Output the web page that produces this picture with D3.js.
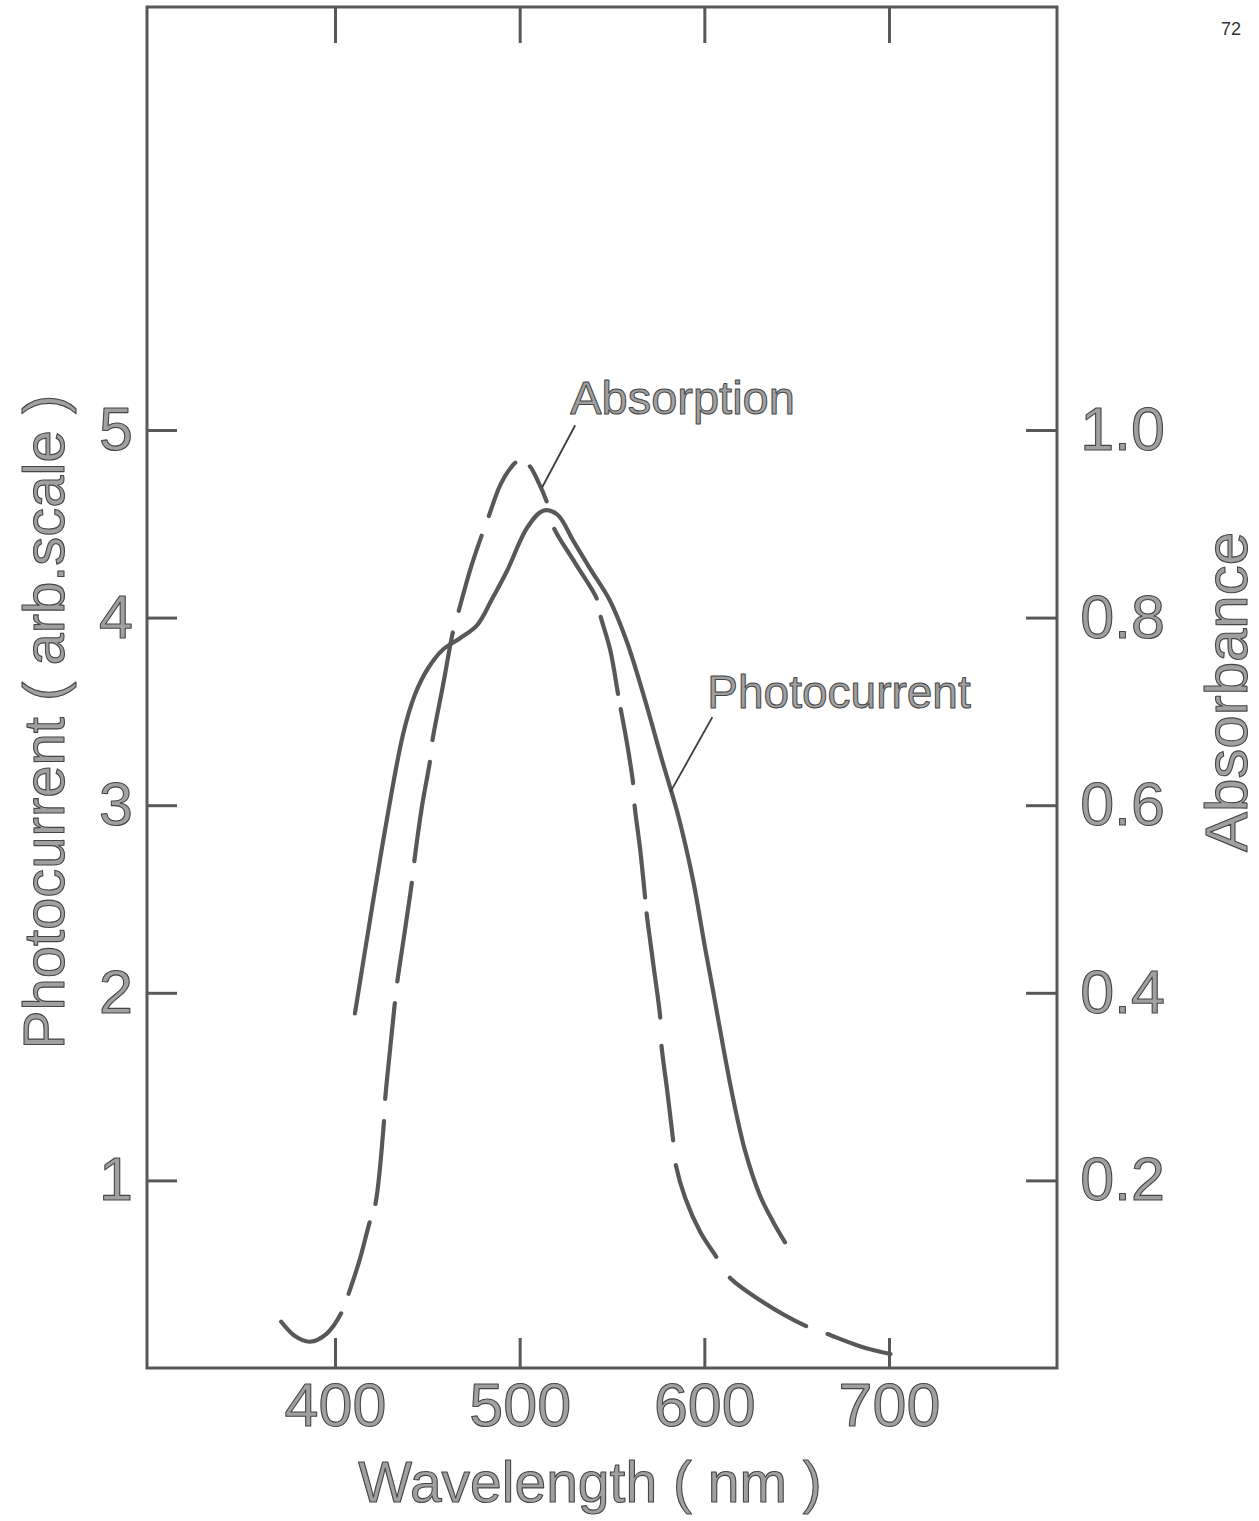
<!DOCTYPE html>
<html>
<head>
<meta charset="utf-8">
<script src="https://cdn.jsdelivr.net/npm/d3@7"></script>
<style>
  html, body { margin: 0; padding: 0; background: #fff; }
  svg { display: block; }
</style>
</head>
<body>
<svg id="chart" width="1259" height="1521"></svg>
<script>
// ---- axis ticks ----
const wavelengthTicks = [400, 500, 600, 700];
const photocurrentTicks = [1, 2, 3, 4, 5];
const absorbanceTicks = [0.2, 0.4, 0.6, 0.8, 1.0];
const absorbanceTickLabels = ["0.2", "0.4", "0.6", "0.8", "1.0"];

// ---- photocurrent spectrum (solid) ----
const photoWavelength = [410.8, 419.0, 428.2, 436.9, 443.3, 450.4, 458.5, 467.7, 477.0, 485.1,
  493.2, 504.1, 512.7, 520.3, 529.0, 538.2, 548.9, 558.1, 567.9, 577.1,
  585.7, 593.9, 600.4, 605.3, 610.6, 615.5, 622.0, 630.1, 637.2, 643.7];
const photoCurrent = [1.89, 2.39, 2.93, 3.38, 3.59, 3.73, 3.83, 3.89, 3.96, 4.10,
  4.25, 4.48, 4.57, 4.55, 4.41, 4.26, 4.09, 3.87, 3.56, 3.24,
  2.95, 2.60, 2.24, 1.98, 1.69, 1.44, 1.16, 0.92, 0.78, 0.67];

// ---- absorption spectrum (long dashes) ----
const absWavelength = [370.2, 378.3, 386.4, 395.7, 403.8, 407.0, 413.6, 419.0, 421.7, 426.6,
  427.1, 429.8, 432.5, 433.6, 437.9, 441.7, 442.8, 447.2, 451.5, 452.6,
  458.5, 464.0, 466.7, 473.2, 479.7, 482.9, 489.4, 494.9, 498.6, 504.6,
  510.0, 514.9, 518.2, 530.1, 542.0, 543.6, 549.1, 553.4, 554.5, 558.3,
  561.5, 562.1, 565.3, 568.0, 568.6, 572.4, 576.2, 576.7, 580.0, 583.2,
  584.3, 589.7, 597.8, 607.0, 613.0, 630.4, 655.8, 665.6, 684.6, 700.8];
const absorbance = [0.051, 0.034, 0.028, 0.037, 0.060, 0.077, 0.117, 0.157, 0.173, 0.265,
  0.285, 0.339, 0.391, 0.410, 0.467, 0.519, 0.538, 0.600, 0.648, 0.667,
  0.728, 0.786, 0.805, 0.851, 0.889, 0.906, 0.941, 0.959, 0.966, 0.963,
  0.945, 0.922, 0.897, 0.858, 0.819, 0.803, 0.765, 0.717, 0.705, 0.664,
  0.622, 0.602, 0.552, 0.500, 0.487, 0.430, 0.372, 0.346, 0.294, 0.241,
  0.219, 0.181, 0.145, 0.117, 0.098, 0.072, 0.044, 0.037, 0.023, 0.015];
// wavelengths where the dashed pen lifts until the next sample
const absPenLifts = [403.8, 419.0, 426.6, 432.5, 441.7, 451.5, 464.0, 479.7, 498.6, 514.9,
  542.0, 553.4, 561.5, 568.0, 576.2, 583.2, 607.0, 655.8];

// ---- curve labels: [text, wavelength, value] of the point each leader touches ----
const absorptionLabel = ["Absorption", 512.2, 0.939];
const photocurrentLabel = ["Photocurrent", 581.6, 3.07];

// ---- layout ----
const frame = { left: 147, top: 7, right: 1057, bottom: 1368 };
const ink = "#585858";
const font = "'Liberation Sans', Arial, sans-serif";

const svg = d3.select("#chart");

const x = d3.scaleLinear().domain([400, 700]).range([335, 889]);
const yLeft = d3.scaleLinear().domain([0, 5]).range([frame.bottom, 430]);
const yRight = d3.scaleLinear().domain([0, 1]).range([frame.bottom, 430]);

function lettering(sel, size) {
  sel.attr("font-family", font)
    .attr("font-size", size)
    .attr("fill", "#a0a0a0")
    .attr("stroke", "#454545")
    .attr("stroke-width", 1.1)
    .attr("stroke-linejoin", "round");
}

// frame
svg.append("rect")
  .attr("x", frame.left).attr("y", frame.top)
  .attr("width", frame.right - frame.left)
  .attr("height", frame.bottom - frame.top)
  .attr("fill", "none").attr("stroke", ink).attr("stroke-width", 3);

function styleAxis(g) {
  g.select(".domain").remove();
  g.selectAll(".tick line").attr("stroke", ink).attr("stroke-width", 3);
  g.selectAll(".tick text").call(lettering, 61);
}

// bottom axis: inward ticks with labels
svg.append("g")
  .attr("transform", `translate(0,${frame.bottom})`)
  .call(d3.axisBottom(x).tickValues(wavelengthTicks).tickFormat(d3.format("d"))
    .tickSizeInner(-30).tickSizeOuter(0).tickPadding(15))
  .call(styleAxis);

// top axis: inward ticks only
svg.append("g")
  .attr("transform", `translate(0,${frame.top})`)
  .call(d3.axisTop(x).tickValues(wavelengthTicks).tickFormat("")
    .tickSizeInner(-36).tickSizeOuter(0))
  .call(styleAxis);

// left axis: photocurrent
svg.append("g")
  .attr("transform", `translate(${frame.left},0)`)
  .call(d3.axisLeft(yLeft).tickValues(photocurrentTicks).tickFormat(d3.format("d"))
    .tickSizeInner(-30).tickSizeOuter(0).tickPadding(14))
  .call(styleAxis);

// right axis: absorbance, labels right-aligned
svg.append("g")
  .attr("transform", `translate(${frame.right},0)`)
  .call(d3.axisRight(yRight).tickValues(absorbanceTicks)
    .tickFormat((d, i) => absorbanceTickLabels[i])
    .tickSizeInner(-31).tickSizeOuter(0).tickPadding(10))
  .call(styleAxis)
  .call(g => g.selectAll(".tick text").attr("text-anchor", "end").attr("x", 108));

// axis titles
svg.append("text")
  .attr("transform", `translate(64,722) rotate(-90)`)
  .attr("text-anchor", "middle")
  .text("Photocurrent ( arb.scale )")
  .call(lettering, 58);

svg.append("text")
  .attr("transform", `translate(1247,692) rotate(-90)`)
  .attr("text-anchor", "middle")
  .text("Absorbance")
  .call(lettering, 60);

svg.append("text")
  .attr("x", 590).attr("y", 1502)
  .attr("text-anchor", "middle")
  .text("Wavelength ( nm )")
  .call(lettering, 57);

// page number
svg.append("text")
  .attr("x", 1241).attr("y", 35)
  .attr("text-anchor", "end")
  .attr("font-family", font).attr("font-size", 18).attr("fill", "#333")
  .text("72");

// curves
const photoData = photoWavelength.map((w, i) => [w, photoCurrent[i]]);
const absData = absWavelength.map((w, i) => [w, absorbance[i]]);

const curve = d3.curveCatmullRom.alpha(0.5);
const photoLine = d3.line().x(d => x(d[0])).y(d => yLeft(d[1])).curve(curve);
const absLine = d3.line().x(d => x(d[0])).y(d => yRight(d[1])).curve(curve);

const penWidth = 4.2;

svg.append("path")
  .datum(photoData)
  .attr("d", photoLine)
  .attr("fill", "none").attr("stroke", ink)
  .attr("stroke-width", penWidth).attr("stroke-linecap", "round").attr("stroke-linejoin", "round");

const absPath = svg.append("path")
  .datum(absData)
  .attr("d", absLine)
  .attr("fill", "none").attr("stroke", ink)
  .attr("stroke-width", penWidth).attr("stroke-linecap", "round").attr("stroke-linejoin", "round");

// turn the pen lifts into a dash pattern along the drawn path
(function () {
  const node = absPath.node();
  const total = node.getTotalLength();
  const samples = [];
  for (let l = 0; l <= total; l += 0.5) {
    const p = node.getPointAtLength(l);
    samples.push([l, p.x, p.y]);
  }
  function lengthAt(px, py) {
    let best = 0, bd = Infinity;
    for (const s of samples) {
      const d = (s[1] - px) ** 2 + (s[2] - py) ** 2;
      if (d < bd) { bd = d; best = s[0]; }
    }
    return best;
  }
  const dashes = [];
  let pos = 0;
  absPenLifts.forEach(w => {
    const i = absWavelength.indexOf(w);
    const a = lengthAt(x(absWavelength[i]), yRight(absorbance[i]));
    const b = lengthAt(x(absWavelength[i + 1]), yRight(absorbance[i + 1]));
    dashes.push(Math.max(1, a - pos - penWidth), b - a + penWidth);
    pos = b;
  });
  dashes.push(total - pos + penWidth, total);
  absPath.attr("stroke-dasharray", dashes.map(d => d.toFixed(1)).join(" "))
    .attr("stroke-dashoffset", -penWidth / 2);
})();

// labels with leader lines
function curveLabel(spec, yScale, leader, textPos, size) {
  const [txt, w, v] = spec;
  const px = x(w), py = yScale(v);
  svg.append("line")
    .attr("x1", px).attr("y1", py)
    .attr("x2", px + leader[0]).attr("y2", py + leader[1])
    .attr("stroke", "#3c3c3c").attr("stroke-width", 1.8);
  svg.append("text")
    .attr("x", px + textPos[0]).attr("y", py + textPos[1])
    .text(txt)
    .call(lettering, size)
    .attr("stroke-width", 1);
}
curveLabel(absorptionLabel, yRight, [33, -62], [28, -73], 47);
curveLabel(photocurrentLabel, yLeft, [42, -75], [37, -84], 46);
</script>
</body>
</html>
